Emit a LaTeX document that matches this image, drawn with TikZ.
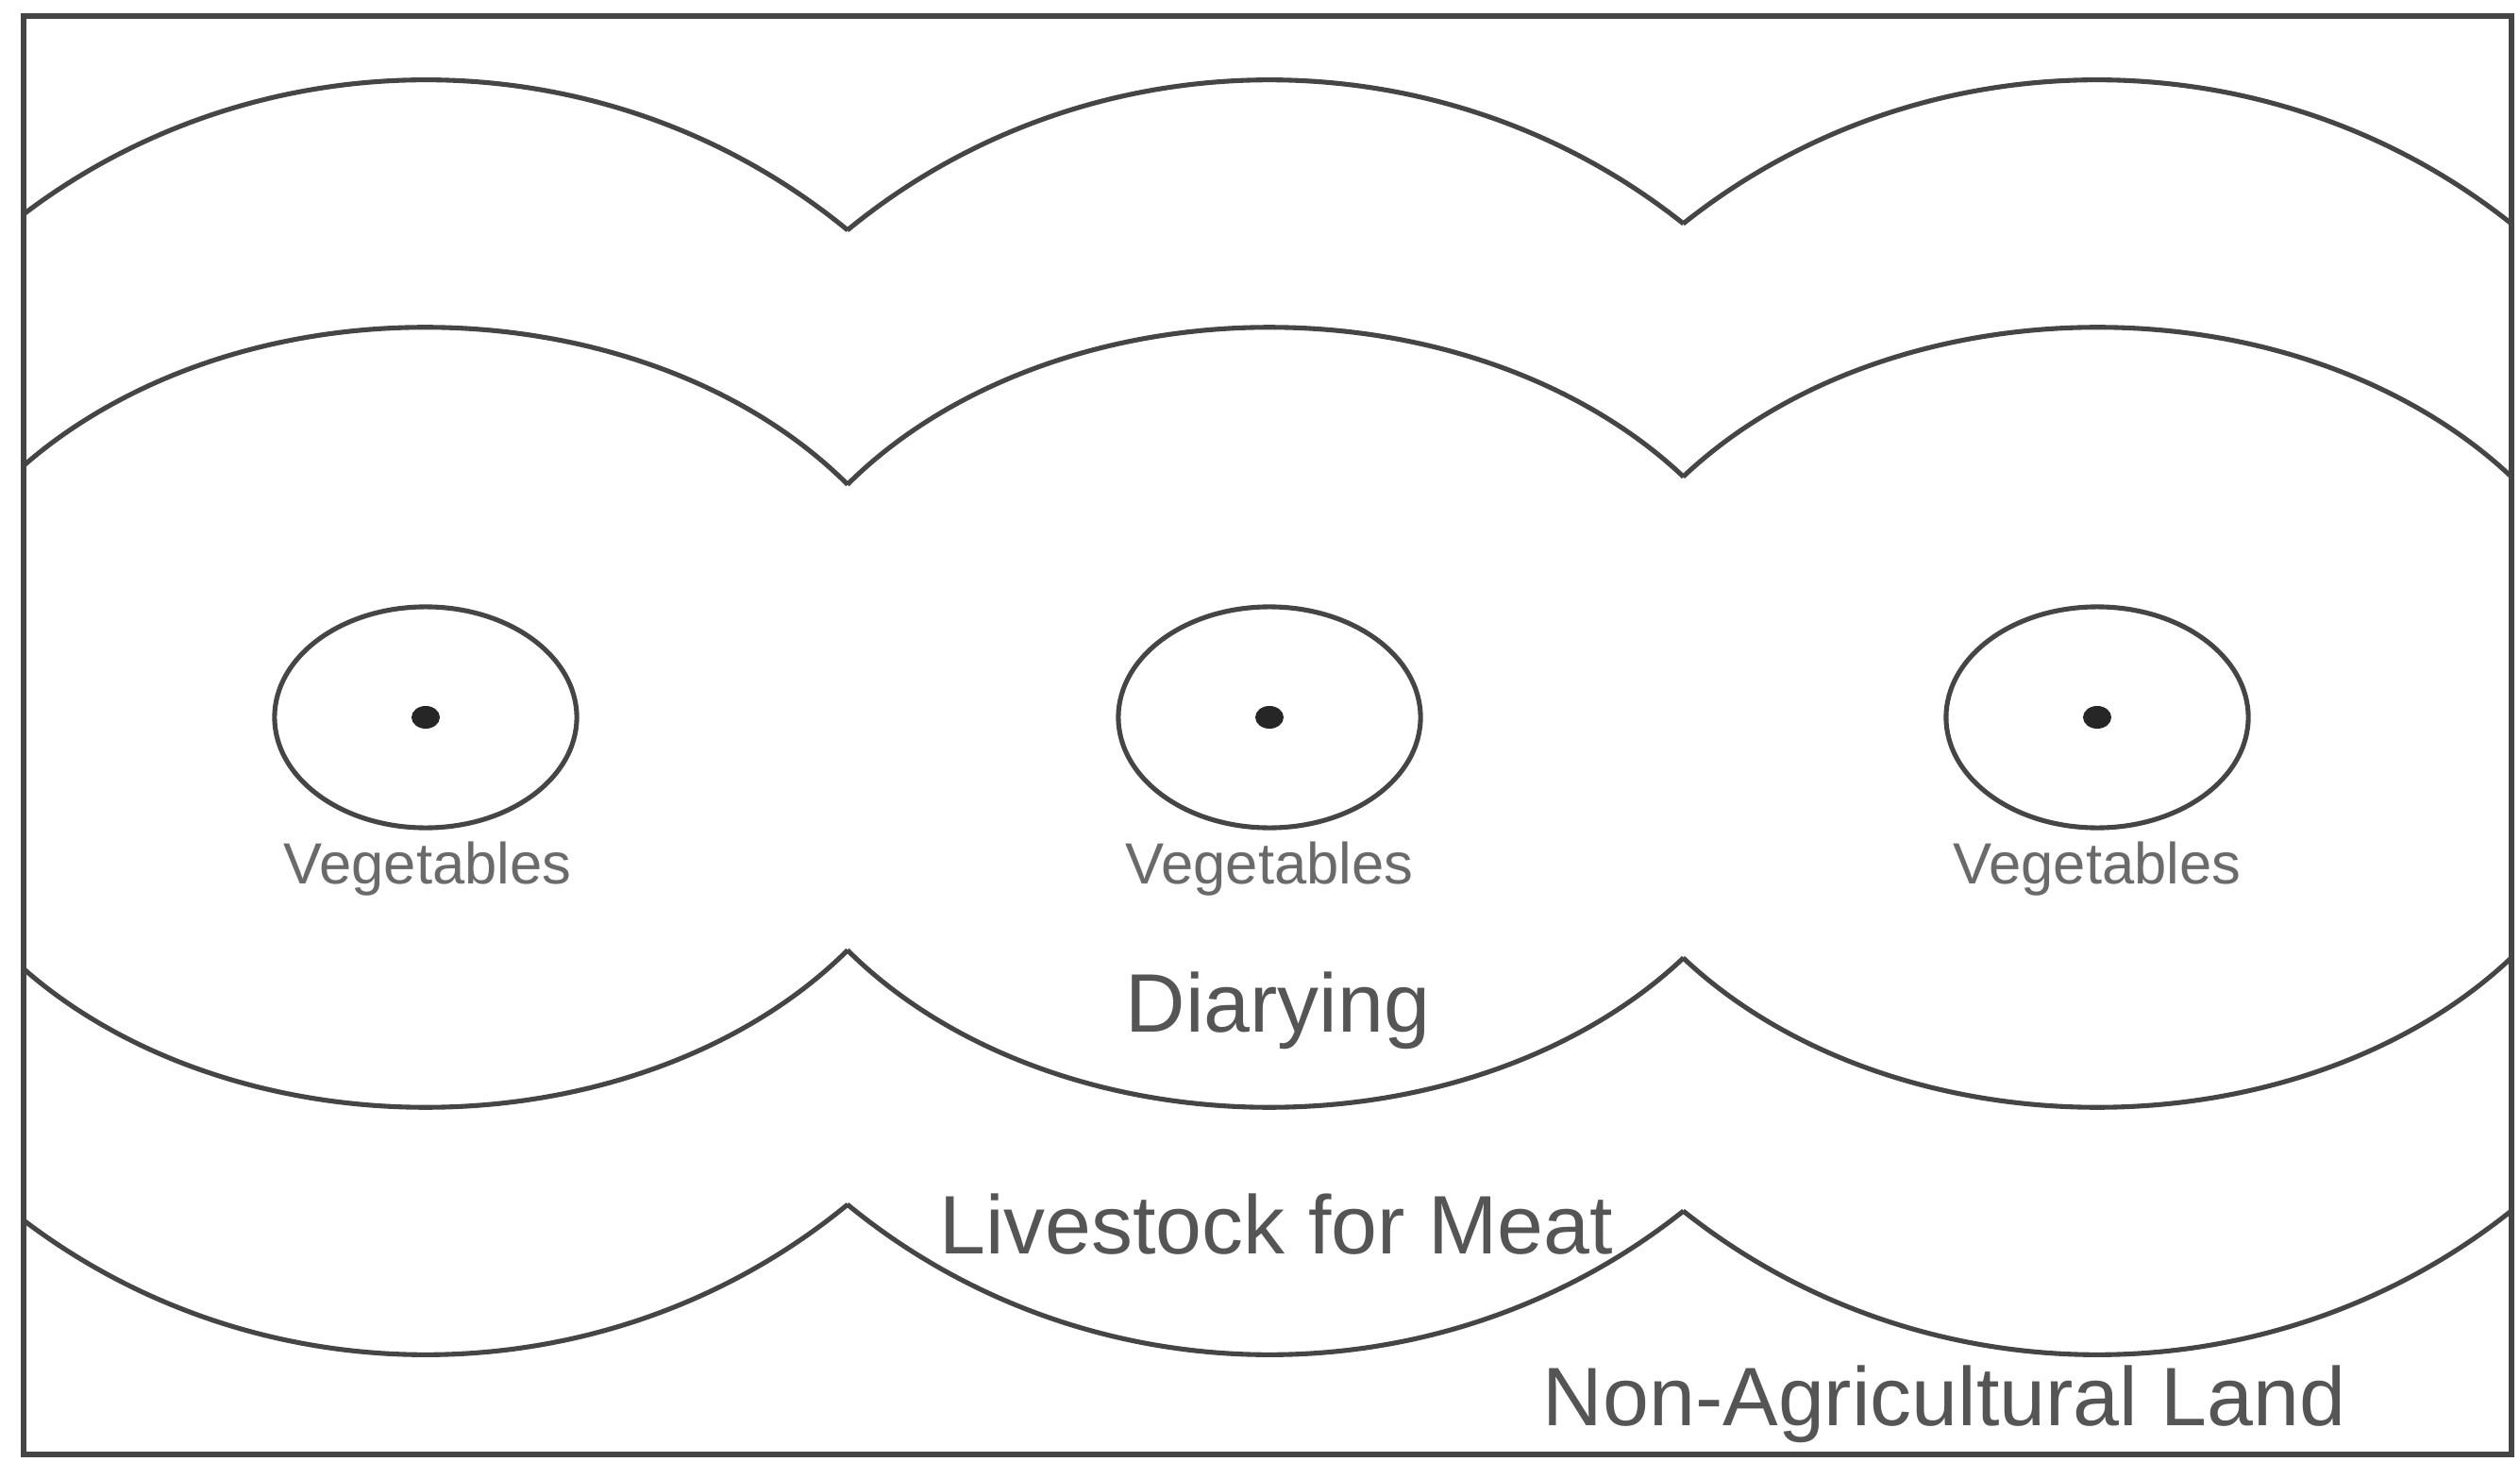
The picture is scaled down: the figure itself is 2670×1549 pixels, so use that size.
\documentclass[tikz,border=0pt]{standalone}
\usepackage{fontspec}
\setmainfont{Liberation Sans}
\definecolor{ln}{HTML}{454545}
\definecolor{tx}{HTML}{555555}
\definecolor{vx}{HTML}{6A6A6A}
\begin{document}
\begin{tikzpicture}[x=0.01cm,y=0.01cm,
  ring/.style={draw=ln,line width=1.45pt},
  lbl/.style={text=tx,font=\fontsize{25}{30}\selectfont,inner sep=0pt},
  veg/.style={text=vx,font=\fontsize{17.5}{21}\selectfont,inner sep=0pt}]
\useasboundingbox (0,0) rectangle (2670,-1549);
\coordinate (c1) at (451,-760);
\coordinate (c2) at (1345,-760);
\coordinate (c3) at (2222,-760);
\coordinate (fa) at (25,-17);
\coordinate (fb) at (2661,-1541);
\begin{scope}
\clip (fa) rectangle (fb);
% outer ring (livestock for meat boundary)
\draw[ring] (c1) ++({acos(447/693)}:6.93cm and 6.75cm)
  arc[start angle={acos(447/693)}, end angle={360-acos(447/693)}, x radius=6.93cm, y radius=6.75cm];
\draw[ring] (c2) ++({180-acos(447/693)}:6.93cm and 6.75cm)
  arc[start angle={180-acos(447/693)}, end angle={acos(438.5/693)}, x radius=6.93cm, y radius=6.75cm];
\draw[ring] (c2) ++({180+acos(447/693)}:6.93cm and 6.75cm)
  arc[start angle={180+acos(447/693)}, end angle={360-acos(438.5/693)}, x radius=6.93cm, y radius=6.75cm];
\draw[ring] (c3) ++({180-acos(438.5/693)}:6.93cm and 6.75cm)
  arc[start angle={180-acos(438.5/693)}, end angle={-180+acos(438.5/693)}, x radius=6.93cm, y radius=6.75cm];
% inner ring (dairying boundary)
\draw[ring] (c1) ++({acos(447/557)}:5.57cm and 4.13cm)
  arc[start angle={acos(447/557)}, end angle={360-acos(447/557)}, x radius=5.57cm, y radius=4.13cm];
\draw[ring] (c2) ++({180-acos(447/557)}:5.57cm and 4.13cm)
  arc[start angle={180-acos(447/557)}, end angle={acos(438.5/557)}, x radius=5.57cm, y radius=4.13cm];
\draw[ring] (c2) ++({180+acos(447/557)}:5.57cm and 4.13cm)
  arc[start angle={180+acos(447/557)}, end angle={360-acos(438.5/557)}, x radius=5.57cm, y radius=4.13cm];
\draw[ring] (c3) ++({180-acos(438.5/557)}:5.57cm and 4.13cm)
  arc[start angle={180-acos(438.5/557)}, end angle={-180+acos(438.5/557)}, x radius=5.57cm, y radius=4.13cm];
\end{scope}
% frame
\draw[draw=ln,line width=1.6pt] (fa) rectangle (fb);
% vegetable zones and towns
\foreach \c in {c1,c2,c3}{
  \draw[ring] (\c) ellipse[x radius=1.60cm, y radius=1.17cm];
  \fill[black!85] (\c) ellipse[x radius=0.15cm, y radius=0.12cm];
}
\node[veg] (v1) at (453,-921) {Vegetables};
\node[veg] (v2) at (1345,-921) {Vegetables};
\node[veg] (v3) at (2222,-921) {Vegetables};
\node[lbl] (dairy) at (1354,-1071) {Diarying};
\node[lbl] (meat) at (1352,-1297) {Livestock for Meat};
\node[lbl] (nonag) at (2060,-1488) {Non-Agricultural Land};
\end{tikzpicture}
\end{document}
